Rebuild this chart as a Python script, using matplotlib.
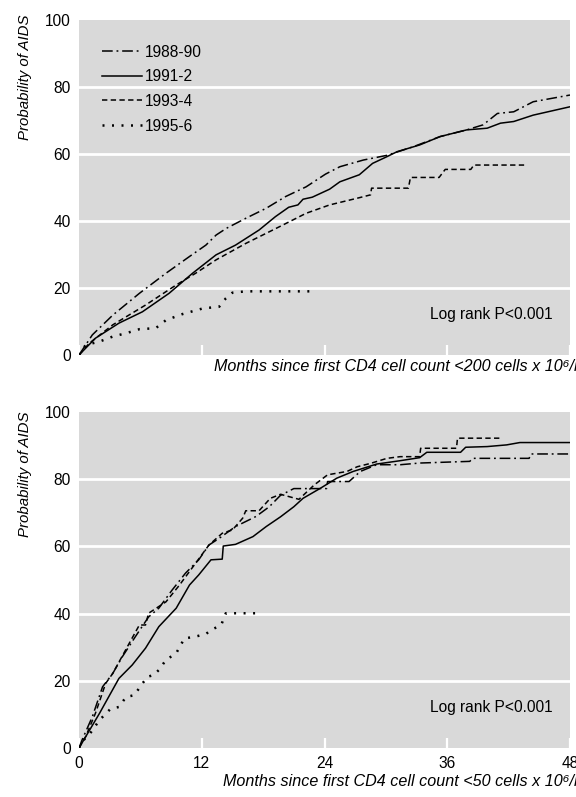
import matplotlib
matplotlib.use("Agg")
import matplotlib.pyplot as plt

plt.rcParams['font.family'] = ['Liberation Sans Narrow', 'Liberation Sans', 'DejaVu Sans']

groups = ['1988-90', '1991-2', '1993-4', '1995-6']

# CD4 < 200: months and probability (%)
a_m_8890 = [0, 1.3, 3.3, 5.9, 8.5, 10.8, 12.4, 13.4, 14.4, 16.3, 18.3, 20.2, 22.2, 24.1, 25.5,
            27.8, 30.1, 32.7, 35.3, 37.9, 39.5, 40.9, 42.5, 44.4, 48]
a_p_8890 = [0, 6.0, 11.9, 18.4, 24.4, 29.4, 32.8, 35.8, 37.8, 40.8, 43.8, 47.3, 50.2, 54.0, 56.2,
            58.2, 59.6, 62.2, 65.2, 67.2, 68.7, 72.1, 72.6, 75.6, 77.6]
a_m_9192 = [0, 1.6, 3.9, 6.2, 8.8, 11.1, 13.4, 15.3, 17.6, 19.2, 20.5, 21.4, 21.9, 22.8, 24.5,
            25.5, 27.4, 28.7, 30.1, 31.1, 33.3, 35.3, 37.9, 39.9, 41.2, 42.5, 44.4, 48]
a_p_9192 = [0, 5.0, 9.5, 12.9, 18.4, 24.4, 29.9, 32.8, 37.3, 41.3, 44.1, 44.8, 46.5, 47.1, 49.5,
            51.7, 53.8, 57.2, 59.2, 60.7, 62.7, 65.2, 67.2, 67.7, 69.2, 69.7, 71.6, 74.1]
a_m_9394 = [0, 1, 3.3, 6.5, 9.5, 11.4, 13.4, 16.3, 19.6, 22.2, 24.5, 27.2, 28.5, 28.6, 32.2,
            32.4, 35.2, 35.8, 38.3, 38.6, 43.6]
a_p_9394 = [0, 3.5, 9.0, 14.9, 20.9, 24.4, 28.4, 33.3, 38.3, 42.3, 44.8, 46.8, 47.8, 49.8, 49.8,
            53.0, 53.0, 55.4, 55.4, 56.7, 56.7]
a_m_9596 = [0, 0.65, 2, 3.3, 4.6, 5.9, 7.5, 8.5, 10.1, 12.1, 13.7, 14.35, 15, 16.3, 22.8]
a_p_9596 = [0, 3, 4, 5.5, 6.5, 7.7, 8.0, 10.4, 12.2, 13.9, 14.4, 16.9, 18.6, 19.0, 19.0]

# CD4 < 50
b_m_8890 = [0, 0.3, 1.3, 2.3, 3.3, 4.2, 5.5, 6.8, 7.8, 9.1, 10.4, 11.7, 12.7, 13.7, 15.3, 17.3,
            18.6, 19.7, 21.0, 24.2, 24.3, 26.4, 27.5, 29.1, 31.4, 33.3, 38.2, 38.5, 44.0, 44.2, 48]
b_p_8890 = [0, 2.4, 9.3, 18.2, 22.2, 27.0, 33.1, 39.0, 41.6, 47.0, 52.0, 56.0, 60.4, 62.4, 65.9, 68.9,
            71.8, 75.2, 77.2, 77.2, 79.3, 79.3, 82.3, 84.3, 84.3, 84.8, 85.3, 86.2, 86.2, 87.5, 87.5]
b_m_9192 = [0, 2, 3.9, 5.2, 6.5, 7.8, 9.5, 10.8, 11.7, 12.9, 14.0, 14.1, 15.3, 17.0, 18.3, 19.7,
            21.0, 21.9, 23.6, 25.2, 26.8, 29.1, 31.4, 33.3, 34.0, 37.3, 37.8, 39.9, 41.8, 43.1, 48]
b_p_9192 = [0, 10.3, 20.7, 24.7, 29.7, 36.1, 41.6, 48.5, 51.5, 56.0, 56.2, 60.1, 60.6, 62.9, 65.9, 68.8,
            71.8, 74.3, 77.3, 80.3, 82.3, 84.5, 85.5, 86.4, 88.0, 88.0, 89.5, 89.7, 90.2, 90.9, 90.9]
b_m_9394 = [0, 0.65, 1.6, 2.6, 3.3, 4.9, 5.9, 6.5, 6.8, 8.5, 9.8, 11.4, 12.7, 14.0, 15.0, 16.0,
            16.3, 17.6, 18.7, 19.7, 21.5, 23.0, 24.3, 26.2, 27.2, 28.5, 30.1, 31.4, 33.3, 33.4,
            36.9, 37.0, 41.2]
b_p_9394 = [0, 3.4, 10.3, 19.2, 22.2, 31.1, 36.6, 36.6, 40.1, 43.5, 48.4, 55.0, 60.4, 63.9, 64.9, 68.4,
            70.6, 70.6, 74.3, 75.5, 74.0, 78.3, 81.3, 82.3, 83.7, 84.7, 86.2, 86.7, 86.7, 89.2,
            89.2, 92.2, 92.2]
b_m_9596 = [0, 0.3, 1.1, 2.0, 3.1, 3.9, 4.6, 5.4, 6.2, 6.7, 7.3, 7.8, 8.5, 9.5, 10.3, 11.3, 12.4,
            12.9, 13.9, 14.35, 17.6]
b_p_9596 = [0, 1.9, 4.4, 8.3, 11.7, 12.2, 15.2, 15.7, 19.2, 21.2, 21.7, 23.2, 26.2, 28.2, 32.6, 33.1,
            33.9, 35.1, 36.6, 40.1, 40.1]

styles = [
    dict(ls=(0, (7, 2.5, 1.2, 2.5)), lw=1.1),
    dict(ls='-', lw=1.1),
    dict(ls=(0, (3.5, 2.2)), lw=1.1),
    dict(ls=(0, (0.8, 3.0)), lw=1.8),
]

bg = '#d9d9d9'
fs = 11.2
fig = plt.figure(figsize=(5.76, 7.97), dpi=100)
ax1 = fig.add_axes([0.1372, 0.5546, 0.8524, 0.4203])
ax2 = fig.add_axes([0.1372, 0.0615, 0.8524, 0.4216])

panels = [
    (ax1, [(a_m_8890, a_p_8890), (a_m_9192, a_p_9192), (a_m_9394, a_p_9394), (a_m_9596, a_p_9596)],
     'Months since first CD4 cell count <200 cells x 10\u2076/l', 0.540),
    (ax2, [(b_m_8890, b_p_8890), (b_m_9192, b_p_9192), (b_m_9394, b_p_9394), (b_m_9596, b_p_9596)],
     'Months since first CD4 cell count <50 cells x 10\u2076/l', 0.019),
]

for ax, series, xlab, ylab_y in panels:
    ax.set_facecolor(bg)
    for (m, p), g, st in zip(series, groups, styles):
        ax.plot(m, p, color='black', label=g, **st)
    ax.set_xlim(0, 48)
    ax.set_ylim(0, 100)
    ax.set_yticks([0, 20, 40, 60, 80, 100])
    ax.set_xticks([0, 12, 24, 36, 48])
    for y in [20, 40, 60, 80]:
        ax.axhline(y, color='white', lw=2, zorder=0.5)
    for s in ax.spines.values():
        s.set_visible(False)
    ax.tick_params(axis='y', length=0, pad=6, labelsize=fs)
    ax.tick_params(axis='x', direction='in', length=7, width=1.6, color='white',
                   labelsize=fs, pad=6)
    ax.text(46.3, 12, 'Log rank P<0.001', ha='right', va='center', fontsize=fs)
    fig.text(1.003, ylab_y, xlab, ha='right', va='center', fontsize=11.6, style='italic')

ax1.tick_params(axis='x', labelbottom=False)
ax1.text(-0.11, 1.015, 'Probability of AIDS', rotation=90, ha='center', va='top',
         transform=ax1.transAxes, fontsize=10.8, style='italic')
ax2.text(-0.11, 1.0, 'Probability of AIDS', rotation=90, ha='center', va='top',
         transform=ax2.transAxes, fontsize=10.8, style='italic')

ax1.legend(loc='upper left', bbox_to_anchor=(0.034, 0.945), frameon=False, fontsize=fs,
           handlelength=2.6, handletextpad=0.15, labelspacing=0.62, borderaxespad=0)

fig.savefig('out.png', dpi=100)
